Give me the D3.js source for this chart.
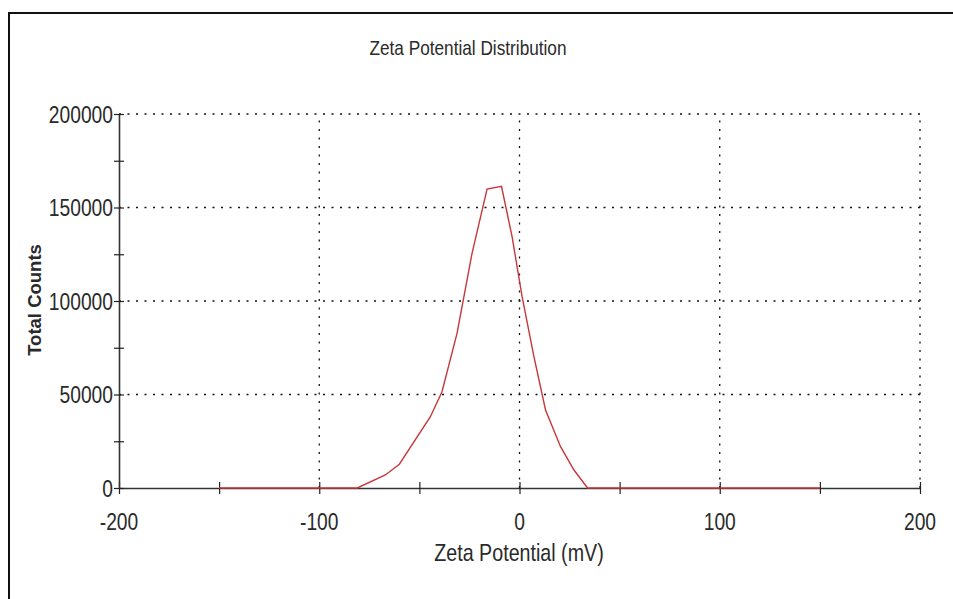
<!DOCTYPE html>
<html>
<head>
<meta charset="utf-8">
<script src="https://cdn.jsdelivr.net/npm/d3@7"></script>
<style>
  body { margin: 0; background: #fff; }
  svg text { font-family: "Liberation Sans", Arial, sans-serif; fill: #2a2a2a; }
</style>
</head>
<body>
<div id="chart"></div>
<script>
// values
let zeta = [-150, -81, -67, -60, -44.5, -38.7, -31.2, -23.7, -16.2, -9, -3.7, 1.3, 7.2, 13, 20.5, 27.2, 34, 150];
let counts = [0, 0, 6950, 12700, 38100, 51500, 82700, 125500, 159900, 161300, 134400, 102300, 70200, 41700, 22100, 9600, 0, 0];
let xTicks = [-200, -150, -100, -50, 0, 50, 100, 150, 200];
let xLabels = [-200, -100, 0, 100, 200];
let yTicks = [0, 25000, 50000, 75000, 100000, 125000, 150000, 175000, 200000];
let yLabels = [0, 50000, 100000, 150000, 200000];

let width = 953, height = 599;
// the original text is a condensed face, squeeze the regular one
let squeeze = 0.82;

let svg = d3.select('#chart')
  .append('svg')
  .attr('width', width)
  .attr('height', height);

// outer frame (left and top only)
svg.append('path')
  .attr('d', `M9,${height} V13 H${width}`)
  .attr('fill', 'none')
  .attr('stroke', '#111')
  .attr('stroke-width', 2);

let x = d3.scaleLinear().domain([-200, 200]).range([119, 920]);
let y = d3.scaleLinear().domain([0, 200000]).range([488, 114]);

/** dotted grid */
svg.append('g')
  .selectAll('line')
  .data(xLabels.filter(d => d > -200))
  .enter()
  .append('line')
  .attr('x1', d => x(d)).attr('x2', d => x(d))
  .attr('y1', y(0)).attr('y2', y(200000))
  .attr('stroke', '#111')
  .attr('stroke-width', 1.3)
  .attr('stroke-dasharray', '2,6.5');

svg.append('g')
  .selectAll('line')
  .data(yLabels.filter(d => d > 0))
  .enter()
  .append('line')
  .attr('x1', x(-200)).attr('x2', x(200))
  .attr('y1', d => y(d)).attr('y2', d => y(d))
  .attr('stroke', '#111')
  .attr('stroke-width', 1.3)
  .attr('stroke-dasharray', '2,6.5');

/** axes */
let xAxis = d3.axisBottom(x).tickValues(xTicks).tickSize(0).tickFormat('');
let gx = svg.append('g').attr('transform', `translate(0,${y(0)})`).call(xAxis);
gx.select('.domain').attr('stroke', '#333').attr('stroke-width', 1.6);
gx.selectAll('.tick line').attr('y1', -6).attr('y2', 6).attr('stroke', '#222').attr('stroke-width', 1.2);

let yAxis = d3.axisLeft(y).tickValues(yTicks).tickSize(0).tickFormat('');
let gy = svg.append('g').attr('transform', `translate(${x(-200)},0)`).call(yAxis);
gy.select('.domain').attr('stroke', '#333').attr('stroke-width', 1.6);
gy.selectAll('.tick line').attr('x1', -5).attr('x2', 5).attr('stroke', '#222').attr('stroke-width', 1.2);

// tick labels
svg.append('g')
  .selectAll('text')
  .data(xLabels)
  .enter()
  .append('text')
  .attr('transform', d => `translate(${x(d)},530) scale(${squeeze},1)`)
  .attr('text-anchor', 'middle')
  .attr('font-size', 23.5)
  .text(d => d);

svg.append('g')
  .selectAll('text')
  .data(yLabels)
  .enter()
  .append('text')
  .attr('transform', d => `translate(${x(-200) - 6},${y(d) + 8.5}) scale(${squeeze},1)`)
  .attr('text-anchor', 'end')
  .attr('font-size', 23.5)
  .text(d => d);

/** titles */
svg.append('text')
  .attr('transform', `translate(468,55) scale(${squeeze},1)`)
  .attr('text-anchor', 'middle')
  .attr('font-size', 21)
  .text('Zeta Potential Distribution');

svg.append('text')
  .attr('transform', `translate(519,561) scale(${squeeze},1)`)
  .attr('text-anchor', 'middle')
  .attr('font-size', 24)
  .text('Zeta Potential (mV)');

svg.append('text')
  .attr('transform', 'translate(41,300) rotate(-90)')
  .attr('text-anchor', 'middle')
  .attr('font-size', 18.5)
  .attr('font-weight', 'bold')
  .text('Total Counts');

/** distribution line */
let line = d3.line().x((d, i) => x(zeta[i])).y(d => y(d));
svg.append('path')
  .datum(counts)
  .attr('d', line)
  .attr('fill', 'none')
  .attr('stroke', '#c8373b')
  .attr('stroke-width', 1.4);
</script>
</body>
</html>
